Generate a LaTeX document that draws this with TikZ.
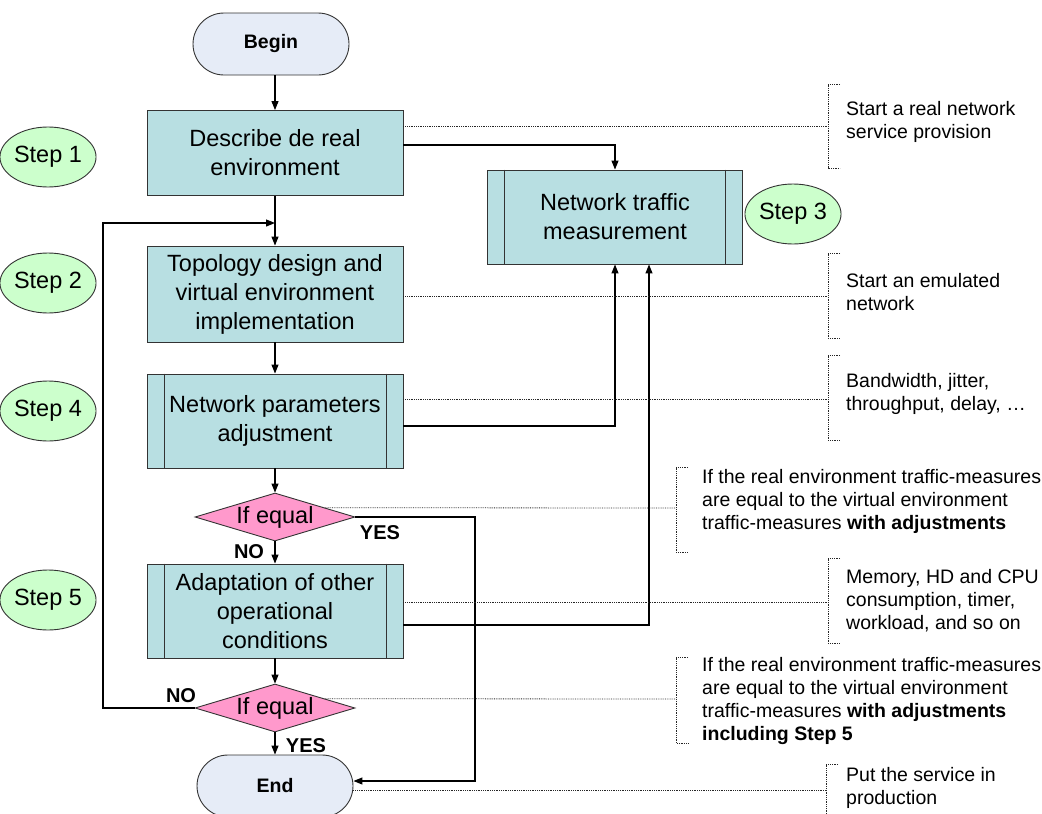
\documentclass[tikz,border=0pt]{standalone}
\usepackage{fontspec}
\setmainfont{Liberation Sans}
\usetikzlibrary{shapes.geometric,arrows.meta,calc}
\definecolor{boxfill}{RGB}{184,223,226}
\definecolor{termfill}{RGB}{230,236,247}
\definecolor{decfill}{RGB}{255,153,204}
\definecolor{stepfill}{RGB}{204,255,204}

\begin{document}
\begin{tikzpicture}[x=1pt,y=-1pt,
    flowbox/.style={draw=black!80, line width=0.9pt, fill=boxfill, minimum width=256pt,
      inner sep=2pt, align=center, font=\fontsize{23.5}{29}\selectfont},
    terminal/.style={draw=black!80, line width=0.9pt, fill=termfill, rounded corners=31pt,
      minimum width=156pt, minimum height=62pt, font=\fontsize{19.5}{23}\selectfont\bfseries},
    decision/.style={diamond, draw=black!80, line width=0.9pt, fill=decfill, aspect=3.33,
      minimum width=160pt, minimum height=48pt, inner sep=0pt, font=\fontsize{23.5}{27}\selectfont},
    stepmark/.style={ellipse, draw=black!80, line width=0.9pt, fill=stepfill,
      minimum width=72pt, minimum height=60pt, inner sep=0pt, font=\fontsize{23.5}{27}\selectfont},
    notetext/.style={anchor=west, align=left, inner sep=0pt, font=\fontsize{19.5}{23}\selectfont},
    lbl/.style={inner sep=0pt, font=\fontsize{20}{23}\selectfont\bfseries},
    arr/.style={line width=1.1pt, -{Triangle[length=9pt,width=7pt]}},
    link/.style={line width=1.1pt},
    note/.style={densely dotted, line width=0.8pt, black!85}]
  \useasboundingbox (0,0) rectangle (1042,814);

  \node[terminal] (begin) at (271,44) {Begin};
  \node[flowbox, minimum height=85pt] (describe) at (275,153) {Describe de real\\environment};
  \node[flowbox, minimum height=96pt] (topology) at (275,294) {Topology design and\\virtual environment\\implementation};
  \node[flowbox, minimum height=94pt] (params) at (275,421) {Network parameters\\adjustment};
  \node[decision] (eqA) at (275,517) {If equal};
  \node[flowbox, minimum height=94pt] (adapt) at (275,611) {Adaptation of other\\operational\\conditions};
  \node[decision] (eqB) at (275,708) {If equal};
  \node[terminal] (end) at (275,786) {End};
  \node[flowbox, minimum width=255pt, minimum height=94pt] (traffic) at (615,217) {Network traffic\\measurement};

  \foreach \n in {traffic,params,adapt}{
    \draw[black!80, line width=0.9pt] ([xshift=17.5pt]\n.north west) -- ([xshift=17.5pt]\n.south west);
    \draw[black!80, line width=0.9pt] ([xshift=-17.5pt]\n.north east) -- ([xshift=-17.5pt]\n.south east);
  }

  \node[stepmark] (s1) at (48,157) {Step 1};
  \node[stepmark] (s2) at (48,283) {Step 2};
  \node[stepmark] (s3) at (793,214) {Step 3};
  \node[stepmark] (s4) at (48,411) {Step 4};
  \node[stepmark] (s5) at (48,600) {Step 5};

  \coordinate (join) at (275,223);
  \coordinate (back) at (103,223);
  \coordinate (yesR) at (475,781);

  \draw[arr] (begin.south -| describe) -- (describe.north);
  \draw[link] (describe) -- (join);
  \draw[arr] (join) -- (topology.north);
  \draw[arr] (topology) -- (params);
  \draw[arr] (params) -- (eqA);
  \draw[arr] (eqA) -- (adapt);
  \draw[arr] (adapt) -- (eqB);
  \draw[arr] (eqB) -- (end);
  \draw[arr] (eqB.west) -| (back) -- (join);
  \draw[arr] (eqA.east) -| (yesR) -- (yesR -| end.east);

  \draw[arr] ([yshift=8pt]describe.east) -| (traffic.north);
  \draw[arr] ([yshift=-5pt]params.east) -| (traffic.south);
  \draw[arr] ([yshift=-14pt]adapt.east) -| ([xshift=34pt]traffic.south);

  \node[lbl] (yesA) at (380,533) {YES};
  \node[lbl] (noA) at (249,552) {NO};
  \node[lbl] (noB) at (181,696) {NO};
  \node[lbl] (yesB) at (306,746) {YES};

  \foreach \x/\top/\bot in {828/84/168, 828/253/338, 828/355/440, 676/467/552,
      828/558/643, 676/657/743, 826/764/830}
    \draw[note] (\x+12,\top) -| (\x,\bot) -- (\x+12,\bot);

  \coordinate (nA) at (828,126);
  \coordinate (nB) at (828,296);
  \coordinate (nC) at (828,399);
  \coordinate (nD) at (676,508);
  \coordinate (nE) at (828,602);
  \coordinate (nF) at (676,699);
  \coordinate (nG) at (826,790);

  \draw[note] (describe.east |- nA) -- (nA);
  \draw[note] (topology.east |- nB) -- (nB);
  \draw[note] (params.east |- nC) -- (nC);
  \draw[note] ($(eqA.north)!0.62!(eqA.east)$) -- (nD);
  \draw[note] (adapt.east |- nE) -- (nE);
  \draw[note] ($(eqB.north)!0.62!(eqB.east)$) -- (nF);
  \draw[note] (end.east |- nG) -- (nG);

  \node[notetext] (tA) at (846,122) {Start a real network\\service provision};
  \node[notetext] (tB) at (846,292) {Start an emulated\\network};
  \node[notetext] (tC) at (846,394) {Bandwidth, jitter,\\throughput, delay, …};
  \node[notetext] (tD) at (702,501) {If the real environment traffic-measures\\are equal to the virtual environment\\traffic-measures \textbf{with adjustments}};
  \node[notetext] (tE) at (846,601) {Memory, HD and CPU\\consumption, timer,\\workload, and so on};
  \node[notetext] (tF) at (702,701) {If the real environment traffic-measures\\are equal to the virtual environment\\traffic-measures \textbf{with adjustments}\\\textbf{including Step 5}};
  \node[notetext] (tG) at (846,788) {Put the service in\\production};
\end{tikzpicture}
\end{document}
